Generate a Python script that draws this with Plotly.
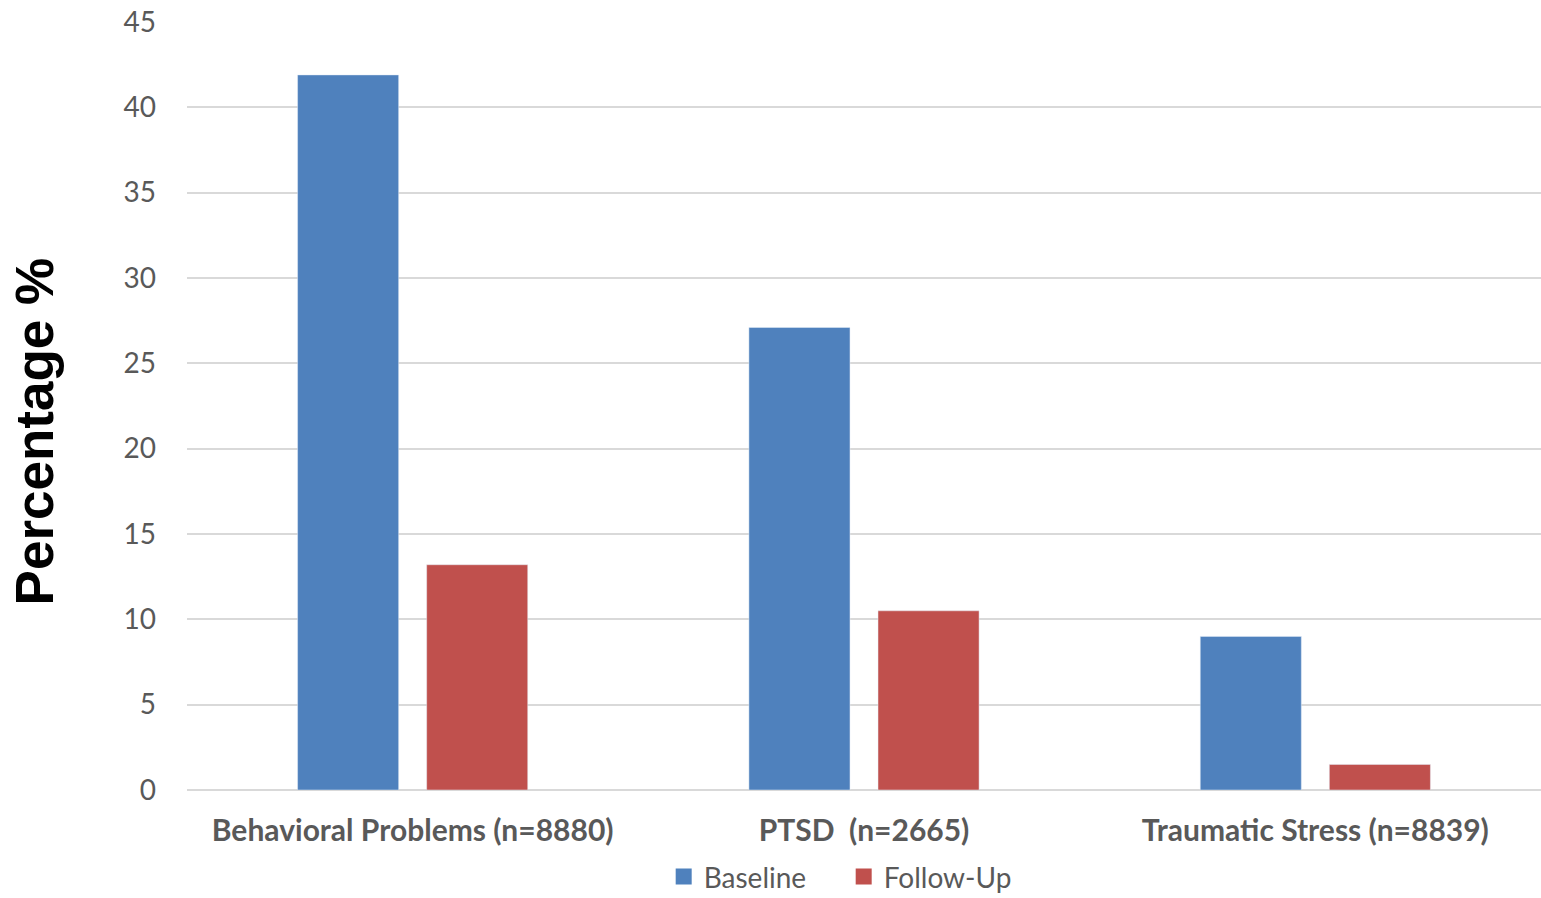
import plotly.graph_objects as go

categories = ["Behavioral Problems (n=8880)", "PTSD  (n=2665)", "Traumatic Stress (n=8839)"]
series_names = ["Baseline", "Follow-Up"]
baseline = [41.9, 27.1, 9.0]
follow_up = [13.2, 10.5, 1.5]
y_ticks = [0, 5, 10, 15, 20, 25, 30, 35, 40, 45]
colors = ["#4F81BD", "#C0504D"]
y_title = "Percentage %"

fig = go.Figure()
for name, vals, col in zip(series_names, [baseline, follow_up], colors):
    fig.add_trace(go.Bar(x=categories, y=vals, name=name, marker_color=col, showlegend=False))
# legend entries with larger square swatches
for name, col in zip(series_names, colors):
    fig.add_trace(go.Scatter(x=[None], y=[None], mode="markers", name=name,
                             marker=dict(symbol="square", size=17, color=col)))

fig.add_annotation(text=y_title, xref="paper", yref="paper", x=-0.1123, y=0.4668,
                   xanchor="center", yanchor="middle", textangle=-90, showarrow=False,
                   font=dict(size=53, family="Liberation Sans", color="black", weight="bold"))

fig.update_layout(
    width=1541, height=898,
    margin=dict(l=187, r=0, t=22, b=108),
    plot_bgcolor="white", paper_bgcolor="white",
    barmode="group", bargap=0.428, bargroupgap=0.217,
    font=dict(family="Lato", color="#595959"),
    legend=dict(orientation="h", x=0.485, xanchor="center", yref="container", y=0.0235, yanchor="middle",
                font=dict(size=28, family="Lato", color="#595959"),
                entrywidth=135, traceorder="normal"),
    xaxis=dict(tickfont=dict(size=30, family="Lato", color="#595959", weight="bold"),
               showgrid=False, showline=False, ticks="", ticklabelstandoff=20, automargin=False),
    yaxis=dict(range=[0, 45], tickvals=y_ticks, showgrid=True, gridcolor="#D9D9D9", gridwidth=1.5,
               zeroline=True, zerolinecolor="#D9D9D9", zerolinewidth=1.5, automargin=False,
               tickfont=dict(size=28, family="Lato", color="#595959"), ticklabelstandoff=30),
)
fig.write_html("out.html", config={"displayModeBar": False},
               post_script="document.body.style.margin='0px';")
